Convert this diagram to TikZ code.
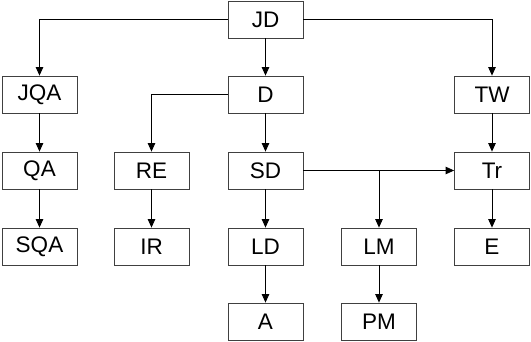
\documentclass[tikz,border=0pt]{standalone}
\usepackage{fontspec}
\setmainfont{Liberation Sans}
\usetikzlibrary{arrows.meta}
\begin{document}
\begin{tikzpicture}[x=1pt,y=-1pt,
  box/.style={draw=black!75,line width=0.8pt,minimum width=75pt,minimum height=37pt,inner sep=0pt,
    font=\fontsize{22.5}{26}\selectfont},
  conn/.style={draw=black,line width=0.8pt,-{Triangle[length=8.5pt,width=7.5pt]}}]
\useasboundingbox (0,0) rectangle (531,342);
\node[box] (JD)  at (265.5,19.5) {JD};
\node[box] (JQA) at (39.5,94.5) {JQA};
\node[box] (D)   at (265.5,94.5) {D};
\node[box] (TW)  at (492,94.5) {TW};
\node[box] (QA)  at (39.5,170.5) {QA};
\node[box] (RE)  at (151.5,170.5) {RE};
\node[box] (SD)  at (265.5,170.5) {SD};
\node[box] (Tr)  at (492,170.5) {Tr};
\node[box] (SQA) at (39.5,246.5) {SQA};
\node[box] (IR)  at (151.5,246.5) {IR};
\node[box] (LD)  at (265.5,246.5) {LD};
\node[box] (LM)  at (379,246.5) {LM};
\node[box] (E)   at (492,246.5) {E};
\node[box] (A)   at (265.5,321.5) {A};
\node[box] (PM)  at (379,321.5) {PM};
\coordinate (br) at (379,170.5);
\draw[conn] (JD.west) -| (JQA.north);
\draw[conn] (JD.east) -| (TW.north);
\draw[conn] (JD) -- (D);
\draw[conn] (D.west) -| (RE.north);
\draw[conn] (D) -- (SD);
\draw[conn] (TW) -- (Tr);
\draw[conn] (JQA) -- (QA);
\draw[conn] (QA) -- (SQA);
\draw[conn] (RE) -- (IR);
\draw[conn] (SD) -- (LD);
\draw[conn] (LD) -- (A);
\draw[conn] (SD.east) -- (Tr.west);
\draw[conn] (br) -- (LM.north);
\draw[conn] (LM) -- (PM);
\draw[conn] (Tr) -- (E);
\end{tikzpicture}
\end{document}
